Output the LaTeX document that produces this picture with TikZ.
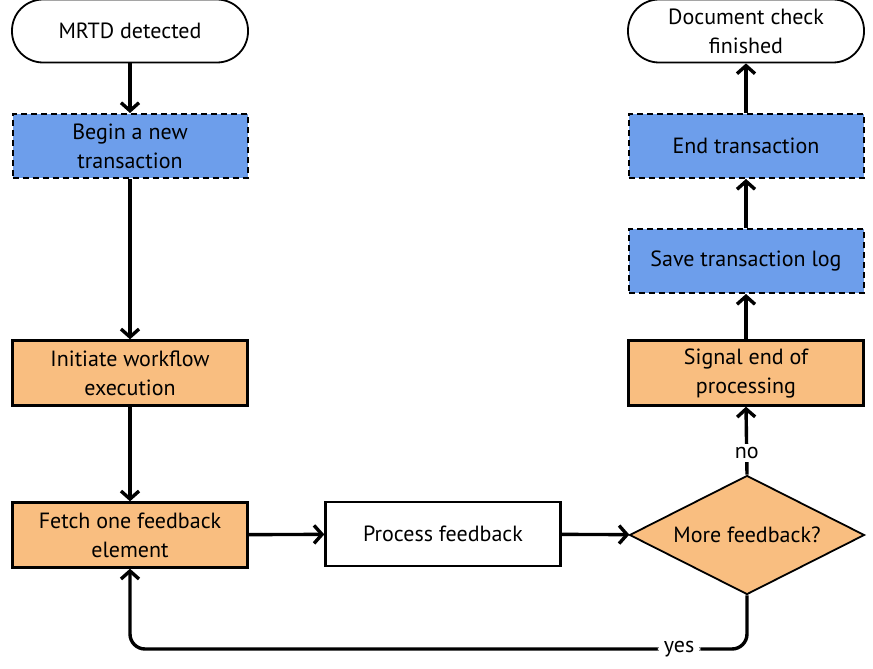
\documentclass[tikz,border=0pt]{standalone}
\usepackage{fontspec}
\setmainfont{PT Sans}
\usetikzlibrary{arrows.meta,shapes.geometric}
\definecolor{bluebox}{HTML}{6D9EEB}
\definecolor{orangebox}{HTML}{F9BE80}
\begin{document}
\begin{tikzpicture}[x=1pt,y=-1pt,
  every node/.style={font=\fontsize{22}{29}\selectfont, align=center},
  term/.style={draw=black, line width=1.8pt, fill=white, rounded corners=31pt, minimum width=236pt, minimum height=63pt, inner sep=0pt},
  bluestep/.style={draw=black, line width=2pt, dash pattern=on 6pt off 4pt, fill=bluebox, minimum width=235pt, minimum height=64pt, inner sep=0pt},
  orangestep/.style={draw=black, line width=2.4pt, fill=orangebox, minimum width=235pt, minimum height=65pt, inner sep=0pt},
  whitestep/.style={draw=black, line width=2.4pt, fill=white, minimum width=235pt, minimum height=64pt, inner sep=0pt},
  decide/.style={diamond, draw=black, line width=1.8pt, fill=orangebox, minimum width=235pt, minimum height=119pt, inner sep=0pt, aspect=2},
  conn/.style={line width=3.4pt, -{Straight Barb[length=8pt,width=18pt,line width=3.4pt]}},
  lbl/.style={fill=white, inner xsep=6pt, inner ysep=3pt}
]
\useasboundingbox (0,0) rectangle (873,669);
\node[term] (start) at (130,31) {MRTD detected};
\node[bluestep] (begin) at (130,146) {Begin a new\\transaction};
\node[orangestep] (init) at (130,373) {Initiate workflow\\execution};
\node[orangestep] (fetch) at (130,535) {Fetch one feedback\\element};
\node[whitestep] (proc) at (443,534) {Process feedback};
\node[decide] (more) at (747,535) {More feedback?};
\node[orangestep] (signal) at (746,373) {Signal end of\\processing};
\node[bluestep] (save) at (746,261) {Save transaction log};
\node[bluestep] (endt) at (746,146) {End transaction};
\node[term] (done) at (746,31) {Document check\\finished};
\coordinate (c1) at (747,649);
\coordinate (c2) at (130,649);

\draw[conn] (start) -- (begin);
\draw[conn] (begin) -- (init);
\draw[conn] (init) -- (fetch);
\draw[conn] (fetch) -- (proc);
\draw[conn] (proc) -- (more);
\draw[conn] (more.north) -- node[lbl, pos=0.32] (no) {no} (signal.south);
\draw[conn] (signal) -- (save);
\draw[conn] (save) -- (endt);
\draw[conn] (endt) -- (done);
\draw[conn, rounded corners=15pt] (more.south) -- (c1) -- node[lbl, pos=0.11] (yes) {yes} (c2) -- (fetch.south);
\end{tikzpicture}
\end{document}
